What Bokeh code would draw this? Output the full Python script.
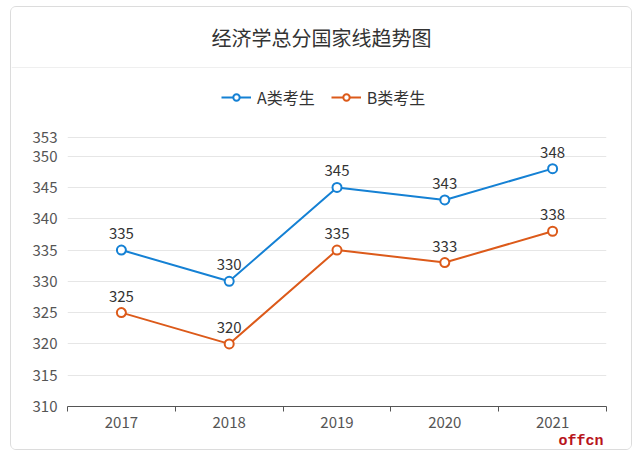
from bokeh.plotting import figure
from bokeh.layouts import column
from bokeh.models import (ColumnDataSource, FixedTicker, Label, LabelSet, Legend,
                          LegendItem, Span, Title)
from bokeh.core.properties import value
from bokeh.embed import file_html
from bokeh.resources import INLINE

years = ["2017", "2018", "2019", "2020", "2021"]
a_scores = [335, 330, 345, 343, 348]
b_scores = [325, 320, 335, 333, 338]
y_ticks = [310, 315, 320, 325, 330, 335, 340, 345, 350, 353]
title_text = "经济学总分国家线趋势图"
series_names = ["A类考生", "B类考生"]
watermark = "offcn"

FONT = "Noto Sans CJK SC"
BLUE = "#1581d4"
ORANGE = "#dc5a1a"
TXT = "#333333"
AX = "#555555"

xs = [i + 1 for i in range(len(years))]
src = ColumnDataSource(dict(x=xs, a=a_scores, b=b_scores,
                            at=[str(v) for v in a_scores],
                            bt=[str(v) for v in b_scores]))

W = 620
HH = 61
MH = 381

# ---------- header ----------
ph = figure(width=W, height=HH, output_backend="svg", toolbar_location=None,
            x_range=(0, W), y_range=(0, HH), min_border=0,
            x_axis_location=None, y_axis_location=None)
ph.frame_align = False
ph.outline_line_color = None
ph.grid.grid_line_color = None
ph.background_fill_color = "white"
ph.border_fill_color = "white"
ph.add_layout(Label(x=W / 2, y=HH / 2 + 1, text=title_text, text_align="center",
                    text_baseline="middle", text_font=FONT,
                    text_font_size="20px", text_color=TXT))
ph.add_layout(Span(location=0.5, dimension="width", line_color="#dedede", line_width=1))

# ---------- main ----------
p = figure(width=W, height=MH, output_backend="svg", toolbar_location=None,
           x_range=(0.5, len(years) + 0.5), y_range=(310, 364),
           min_border_left=56, min_border_right=25, min_border_top=0,
           min_border_bottom=42)
p.frame_align = False
p.outline_line_color = None
p.background_fill_color = "white"
p.border_fill_color = "white"

p.xaxis.ticker = FixedTicker(ticks=xs, minor_ticks=[i + 0.5 for i in range(len(years) + 1)])
p.xaxis.major_label_overrides = {x: y for x, y in zip(xs, years)}
p.xaxis.major_tick_line_color = None
p.xaxis.major_tick_out = 0
p.xaxis.major_tick_in = 0
p.xaxis.minor_tick_in = 0
p.xaxis.minor_tick_out = 5
p.xaxis.minor_tick_line_color = AX
p.xaxis.axis_line_color = AX
p.xaxis.major_label_text_font = FONT
p.xaxis.major_label_text_font_size = "15px"
p.xaxis.major_label_text_color = AX
p.xaxis.major_label_standoff = 5

p.yaxis.ticker = FixedTicker(ticks=y_ticks)
p.yaxis.axis_line_color = None
p.yaxis.major_tick_line_color = None
p.yaxis.minor_tick_line_color = None
p.yaxis.major_tick_out = 0
p.yaxis.major_tick_in = 0
p.yaxis.major_label_text_font = FONT
p.yaxis.major_label_text_font_size = "15px"
p.yaxis.major_label_text_color = AX
p.yaxis.major_label_standoff = 10

p.xgrid.grid_line_color = None
p.ygrid.ticker = FixedTicker(ticks=y_ticks)
p.ygrid.grid_line_color = "#e6e6e6"

la = p.line("x", "a", source=src, line_color=BLUE, line_width=2)
sa = p.scatter("x", "a", source=src, size=9, line_color=BLUE, line_width=2, fill_color="white")
lb = p.line("x", "b", source=src, line_color=ORANGE, line_width=2)
sb = p.scatter("x", "b", source=src, size=9, line_color=ORANGE, line_width=2, fill_color="white")

for col in ("at", "bt"):
    p.add_layout(LabelSet(x="x", y=col[0], text=col, source=src, y_offset=11,
                          text_align="center", text_baseline="bottom",
                          text_font=value(FONT), text_font_size="15px", text_color=TXT))

legend = Legend(items=[LegendItem(label=series_names[0], renderers=[la, sa]),
                       LegendItem(label=series_names[1], renderers=[lb, sb])],
                orientation="horizontal", location=(154, 297),
                glyph_width=30, glyph_height=16, label_standoff=6, spacing=16,
                padding=0, margin=0, border_line_color=None, background_fill_alpha=0,
                label_text_font=FONT, label_text_font_size="16px", label_text_color=TXT)
p.add_layout(legend, "center")

p.add_layout(Title(text=watermark, align="right", text_font="Liberation Mono",
                   text_font_size="15px", text_color="#b8141b", text_font_style="bold",
                   standoff=0, offset=3), "below")

layout = column(ph, p, margin=(6, 0, 0, 10), spacing=0,
                styles={"border": "1px solid #dcdcdc", "border-radius": "6px",
                        "overflow": "hidden"})

open("out.html", "w").write(file_html(layout, INLINE))
